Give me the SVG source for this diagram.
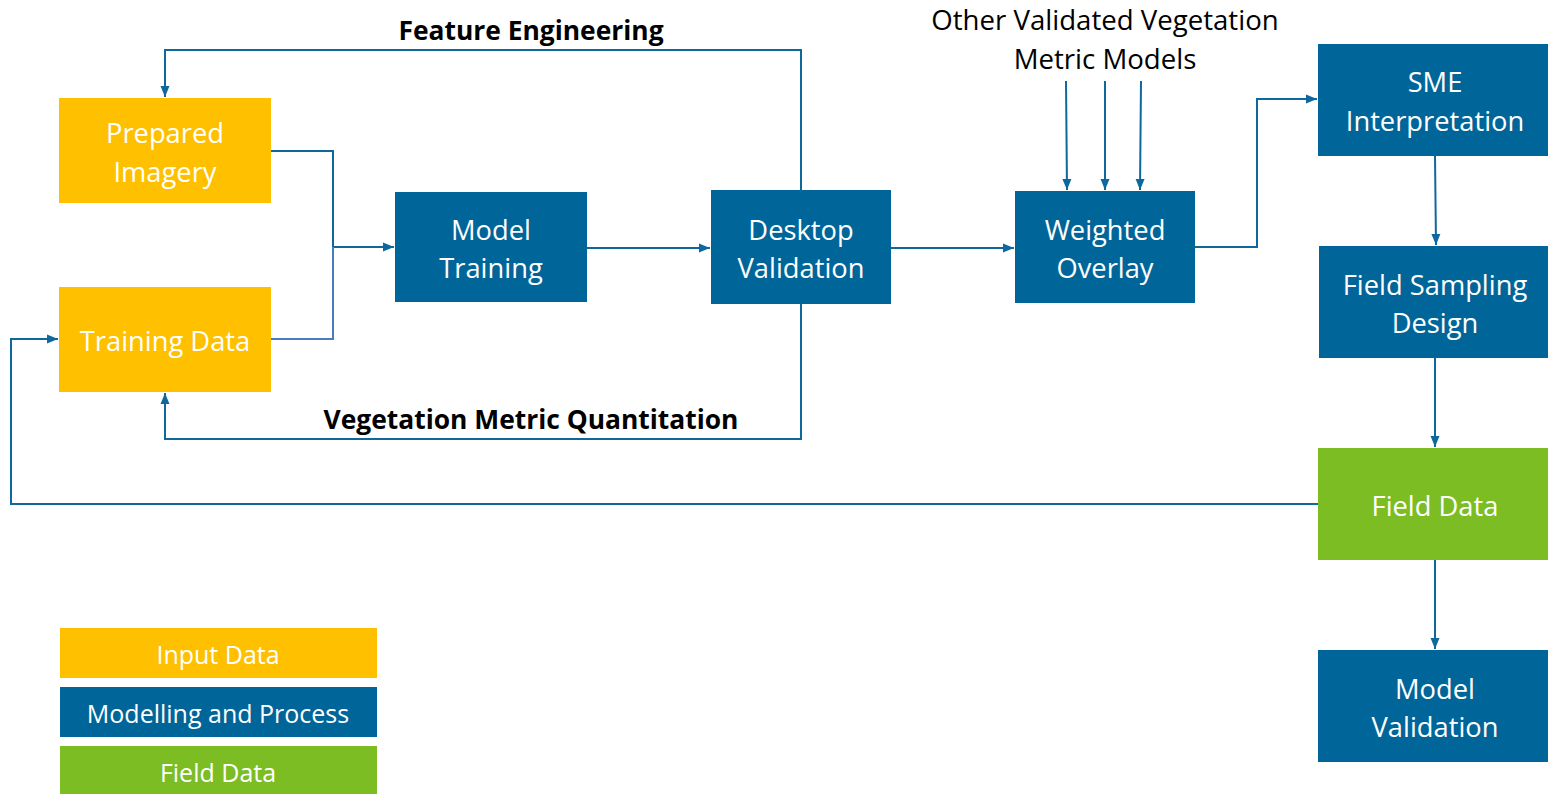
<svg xmlns="http://www.w3.org/2000/svg" width="1548" height="794" viewBox="0 0 1548 794">
<style>
.y{fill:#FFC000}
.b{fill:#006699}
.g{fill:#7BBD22}
.t{font-family:"Open Sans","Liberation Sans",sans-serif;font-size:27.3px;fill:#fff;text-anchor:middle}
.lg{font-family:"Open Sans","Liberation Sans",sans-serif;font-size:25px;fill:#fff;text-anchor:middle}
.lbl{font-family:"Open Sans","Liberation Sans",sans-serif;font-size:26.4px;fill:#000;text-anchor:middle;font-weight:bold}
.lbn{font-family:"Open Sans","Liberation Sans",sans-serif;font-size:27.6px;fill:#000;text-anchor:middle}
.c{fill:none;stroke:#0F689D;stroke-width:2}
.c2{fill:none;stroke:#4A7CC4;stroke-width:2}
</style>
<defs>
<marker id="ah" viewBox="0 0 11 10" refX="11" refY="5" markerWidth="11" markerHeight="10" markerUnits="userSpaceOnUse" orient="auto">
<path d="M0,0.5 L11,5 L0,9.5 z" fill="#0F689D"/>
</marker>
</defs>
<rect width="1548" height="794" fill="#fff"/>
<g id="connectors">
<path class="c" d="M271,151 H333 V247 H394" marker-end="url(#ah)"/>
<path class="c2" d="M271,339 H333 V247"/>
<path class="c" d="M587,248 H710" marker-end="url(#ah)"/>
<path class="c" d="M891,248 H1014" marker-end="url(#ah)"/>
<path class="c" d="M801,190 V50 H165 V97" marker-end="url(#ah)"/>
<path class="c" d="M801,304 V439 H165 V393" marker-end="url(#ah)"/>
<path class="c" d="M1066,81 L1067,190" marker-end="url(#ah)"/>
<path class="c" d="M1105,81 V190" marker-end="url(#ah)"/>
<path class="c" d="M1141,81 L1140,190" marker-end="url(#ah)"/>
<path class="c" d="M1195,247 H1257 V99 H1317" marker-end="url(#ah)"/>
<path class="c" d="M1435,156 L1436,245" marker-end="url(#ah)"/>
<path class="c" d="M1435,358 V447" marker-end="url(#ah)"/>
<path class="c" d="M1435,560 V649" marker-end="url(#ah)"/>
<path class="c" d="M1318,504 H11 V339 H58" marker-end="url(#ah)"/>
</g>
<g id="lbl-feature"><text class="lbl" x="531" y="40">Feature Engineering</text></g>
<g id="lbl-veg"><text class="lbl" x="531" y="429">Vegetation Metric Quantitation</text></g>
<g id="lbl-other"><text class="lbn" x="1105" y="30">Other Validated Vegetation</text><text class="lbn" x="1105" y="69">Metric Models</text></g>
<g id="prepared-imagery"><rect class="y" x="59" y="98" width="212" height="105"/><text class="t" x="165" y="143">Prepared</text><text class="t" x="165" y="182">Imagery</text></g>
<g id="training-data"><rect class="y" x="59" y="287" width="212" height="105"/><text class="t" x="165" y="351">Training Data</text></g>
<g id="model-training"><rect class="b" x="395" y="192" width="192" height="110"/><text class="t" x="491" y="240">Model</text><text class="t" x="491" y="278">Training</text></g>
<g id="desktop-validation"><rect class="b" x="711" y="190" width="180" height="114"/><text class="t" x="801" y="240">Desktop</text><text class="t" x="801" y="278">Validation</text></g>
<g id="weighted-overlay"><rect class="b" x="1015" y="191" width="180" height="112"/><text class="t" x="1105" y="240">Weighted</text><text class="t" x="1105" y="278">Overlay</text></g>
<g id="sme"><rect class="b" x="1318" y="44" width="230" height="112"/><text class="t" x="1435" y="92">SME</text><text class="t" x="1435" y="131">Interpretation</text></g>
<g id="field-sampling"><rect class="b" x="1319" y="246" width="229" height="112"/><text class="t" x="1435" y="295">Field Sampling</text><text class="t" x="1435" y="333">Design</text></g>
<g id="field-data"><rect class="g" x="1318" y="448" width="230" height="112"/><text class="t" x="1435" y="516">Field Data</text></g>
<g id="model-validation"><rect class="b" x="1318" y="650" width="230" height="112"/><text class="t" x="1435" y="699">Model</text><text class="t" x="1435" y="737">Validation</text></g>
<g id="legend-input"><rect class="y" x="60" y="628" width="317" height="50"/><text class="lg" x="218" y="664">Input Data</text></g>
<g id="legend-model"><rect class="b" x="60" y="687" width="317" height="50"/><text class="lg" x="218" y="723">Modelling and Process</text></g>
<g id="legend-field"><rect class="g" x="60" y="746" width="317" height="48"/><text class="lg" x="218" y="782">Field Data</text></g>
</svg>
